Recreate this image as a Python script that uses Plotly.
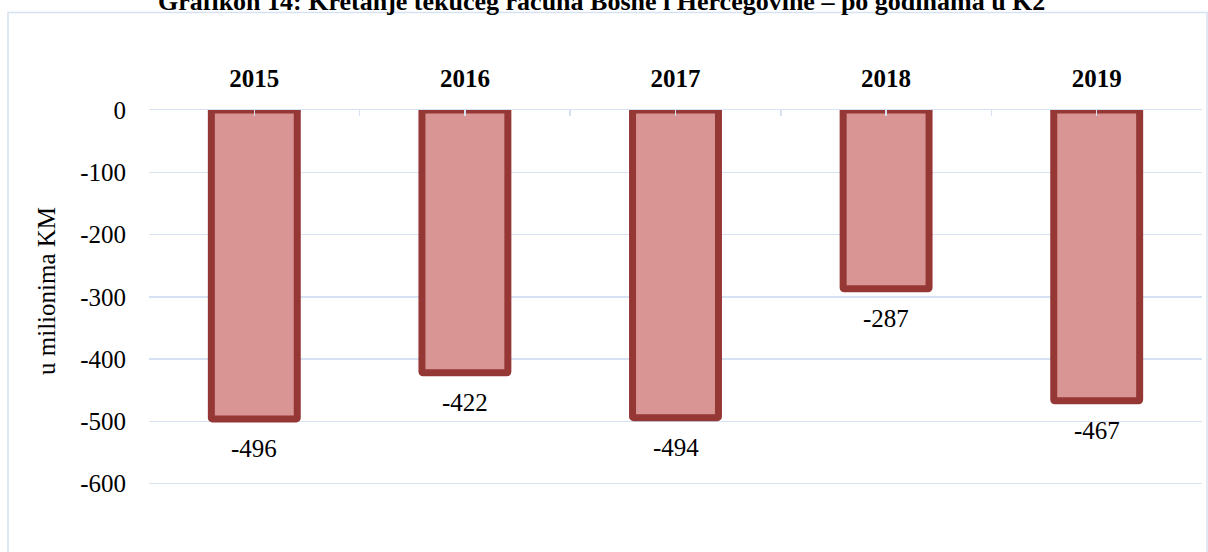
import plotly.graph_objects as go

years = ["2015", "2016", "2017", "2018", "2019"]
values = [-496, -422, -494, -287, -467]
y_ticks = [0, -100, -200, -300, -400, -500, -600]
y_tick_labels = ["0", "-100", "-200", "-300", "-400", "-500", "-600"]
title_text = "Grafikon 14: Kretanje tekućeg računa Bosne i Hercegovine – po godinama u K2"
y_title = "u milionima KM"

W, H = 1208, 552
ML, MR, MT, MB = 149, 6, 110, 6
PW = W - ML - MR
PH = H - MT - MB

FONT = "Liberation Serif"
GRID = "#D6E1F1"

xs = list(range(len(years)))

fig = go.Figure()
fig.add_trace(go.Bar(
    x=xs, y=values, width=0.408,
    marker=dict(color="#D99594", line=dict(color="#953735", width=7), cornerradius=1),
    hoverinfo="skip",
))

for x, v in zip(xs, values):
    fig.add_annotation(x=x, y=v, text=str(v), showarrow=False, yshift=-29.5,
                       yanchor="middle", xanchor="center",
                       font=dict(family=FONT, size=25, color="#000000"))

def px_x(p):
    return (p - ML) / PW

def px_y(p):
    return (H - MB - p) / PH

fig.add_annotation(xref="paper", yref="paper", x=px_x(46), y=px_y(291), text=y_title,
                   textangle=-90, showarrow=False, xanchor="center", yanchor="middle",
                   font=dict(family=FONT, size=25, color="#000000"))

fig.add_annotation(xref="paper", yref="paper", x=px_x(601), y=px_y(2), text="<b>" + title_text + "</b>",
                   showarrow=False, xanchor="center", yanchor="middle",
                   font=dict(family=FONT, size=26, color="#000000"))

fig.add_shape(type="rect", xref="paper", yref="paper",
              x0=px_x(8), x1=px_x(1207), y0=px_y(560), y1=px_y(12.5),
              line=dict(color=GRID, width=1.5), fillcolor="rgba(0,0,0,0)", layer="below")

fig.update_layout(
    width=W, height=H,
    margin=dict(l=ML, r=MR, t=MT, b=MB, pad=0, autoexpand=False),
    paper_bgcolor="white", plot_bgcolor="white",
    showlegend=False,
    xaxis=dict(
        range=[-0.5, len(years) - 0.5], side="top", automargin=False,
        tickmode="array", tickvals=xs, ticktext=years,
        tickfont=dict(family=FONT, size=25, color="#000000", weight="bold"),
        ticks="inside", ticklen=6, tickcolor=GRID, tickwidth=1.5,
        ticklabelstandoff=12,
        minor=dict(tickvals=[i - 0.5 for i in range(len(years) + 1)], ticks="inside",
                   ticklen=6, tickcolor=GRID, tickwidth=1.5),
        showline=True, linecolor=GRID, linewidth=1.5,
        showgrid=False, zeroline=False, fixedrange=True, layer="above traces",
    ),
    yaxis=dict(
        range=[-700, 0], tickmode="array", tickvals=y_ticks, ticktext=y_tick_labels,
        automargin=False,
        tickfont=dict(family=FONT, size=25, color="#000000"),
        ticks="", ticklabelstandoff=22,
        showgrid=True, gridcolor=GRID, gridwidth=1.5,
        zeroline=False, showline=False, fixedrange=True,
    ),
)

fig.write_html("out.html", config={"displayModeBar": False, "staticPlot": True},
               post_script="document.body.style.margin='0px';document.body.style.overflow='hidden';")
